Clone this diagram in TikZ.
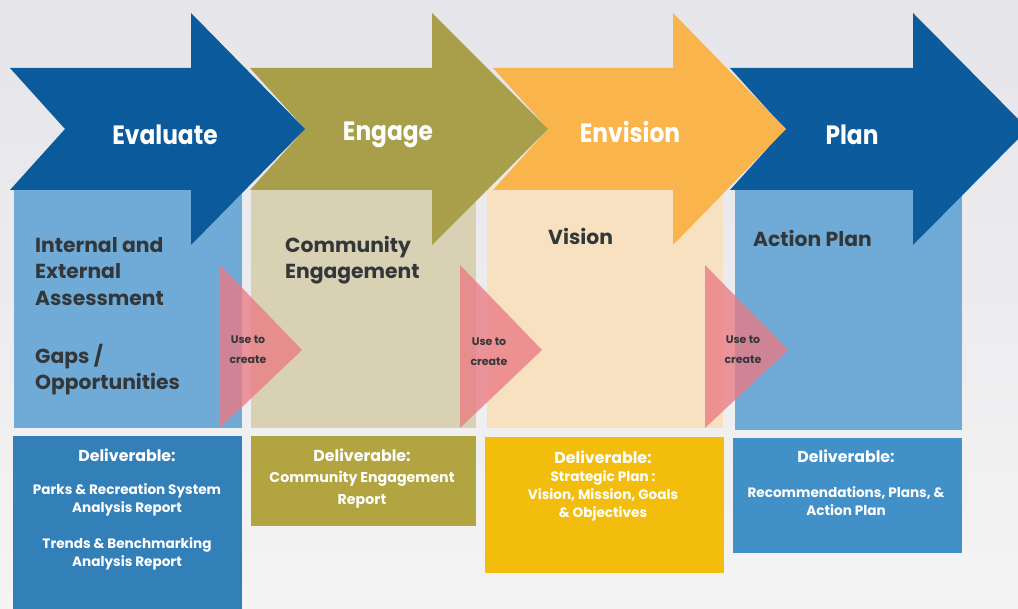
\documentclass[tikz,border=0pt]{standalone}
\usepackage{fontspec}
\setmainfont{Poppins}
\newfontfamily\headfont[FakeStretch=0.88]{Poppins}
\usetikzlibrary{positioning}

\definecolor{evalblue}{HTML}{0B5A9B}
\definecolor{engolive}{HTML}{A99F4A}
\definecolor{envorange}{HTML}{F9B54C}
\definecolor{planblue}{HTML}{0C5B9C}
\definecolor{paleblue}{HTML}{70ABD7}
\definecolor{palebeige}{HTML}{D8D1B4}
\definecolor{palepeach}{HTML}{F7E1C0}
\definecolor{usepink}{HTML}{EA7A84}
\definecolor{delblue}{HTML}{3380B9}
\definecolor{delolive}{HTML}{B2A440}
\definecolor{delyellow}{HTML}{F2BD0C}
\definecolor{delblueb}{HTML}{4290C8}
\definecolor{inktext}{HTML}{33373A}
\definecolor{bgtop}{HTML}{E5E5EA}
\definecolor{bgbottom}{HTML}{F4F4F4}

\tikzset{
  phasehead/.style={text=white, font=\headfont\fontsize{26.5}{30}\selectfont\bfseries, inner sep=0pt},
  boxtitle/.style={text=inktext, font=\fontsize{20.3}{26.5}\selectfont\bfseries, align=left, anchor=north west, inner sep=0pt},
  delhead/.style={text=white, font=\fontsize{15.8}{18}\selectfont\bfseries, inner sep=0pt},
  delbody/.style={text=white, font=\fontsize{13.6}{18}\selectfont\bfseries, align=center, inner sep=0pt},
  usetext/.style={text=inktext, font=\fontsize{11}{20}\selectfont\bfseries, align=center, inner sep=0pt},
  usetri/.style={fill=usepink, fill opacity=0.78, draw=none},
}

% one chevron arrow: left edge x, head start x, tip x, colour
\newcommand{\phasearrow}[4]{%
  \fill[#4] (#1,68) -- (#2,68) -- (#2,13) -- (#3,129) -- (#2,245) -- (#2,190)
    -- (#1,190) -- ({#1+55},129) -- cycle;}

\begin{document}
\begin{tikzpicture}[x=1pt,y=-1pt]
  \useasboundingbox (0,0) rectangle (1018,609);
  \clip (0,0) rectangle (1018,609);
  \shade[top color=bgtop, bottom color=bgbottom] (0,0) rectangle (1018,609);

  % pale content panels
  \fill[paleblue]  (14,189)  rectangle (242,428);
  \fill[palebeige] (251,189) rectangle (476,428);
  \fill[palepeach] (487,189) rectangle (723,428);
  \fill[paleblue]  (735,189) rectangle (962,430);

  % phase arrows, drawn right to left so each head overlaps the next shaft
  \phasearrow{730}{913}{1028}{planblue}
  \phasearrow{493}{673}{786}{envorange}
  \phasearrow{250}{432}{548}{engolive}
  \phasearrow{10}{191}{305}{evalblue}

  \node[phasehead] (evaluate) at (165,135) {Evaluate};
  \node[phasehead] (engage)   at (388,135) {Engage};
  \node[phasehead] (envision) at (630,132) {Envision};
  \node[phasehead] (plan)     at (852,135) {Plan};

  % panel titles
  \node[boxtitle] (assess)  at (35,237)  {Internal and\\External\\Assessment};
  \node[boxtitle] (gaps)    at (35,344)  {Gaps /\\Opportunities};
  \node[boxtitle] (commeng) at (285,236) {Community\\Engagement};
  \node[boxtitle] (vision)  at (548,228) {Vision};
  \node[boxtitle] (action)  at (753,230) {Action Plan};

  % "use to create" connectors
  \fill[usetri] (220,265) -- (302,350) -- (220,428) -- cycle;
  \fill[usetri] (460,265) -- (542,350) -- (460,428) -- cycle;
  \fill[usetri] (705,265) -- (788,350) -- (705,428) -- cycle;
  \node[usetext] (use1) at (248,350) {Use to\\create};
  \node[usetext] (use2) at (489,352) {Use to\\create};
  \node[usetext] (use3) at (743,350) {Use to\\create};

  % deliverable boxes
  \fill[delblue]   (13,436)  rectangle (242,612);
  \fill[delolive]  (251,436) rectangle (476,526);
  \fill[delyellow] (485,437) rectangle (724,573);
  \fill[delblueb]  (733,438) rectangle (962,553);

  \node[delhead] (d1) at (127,455) {Deliverable:};
  \node[delbody] (d1a) at (127,500) {Parks \& Recreation System\\Analysis Report};
  \node[delbody] (d1b) at (127,554) {Trends \& Benchmarking\\Analysis Report};

  \node[delhead] (d2) at (362,455) {Deliverable:};
  \node[delbody, font=\fontsize{14.2}{22}\selectfont\bfseries] (d2a) at (362,490) {Community Engagement\\Report};

  \node[delhead] (d3) at (603,457) {Deliverable:};
  \node[delbody] (d3a) at (603,496) {Strategic Plan :\\Vision, Mission, Goals\\\& Objectives};

  \node[delhead] (d4) at (846,456) {Deliverable:};
  \node[delbody] (d4a) at (846,501) {Recommendations, Plans, \&\\Action Plan};
\end{tikzpicture}
\end{document}
